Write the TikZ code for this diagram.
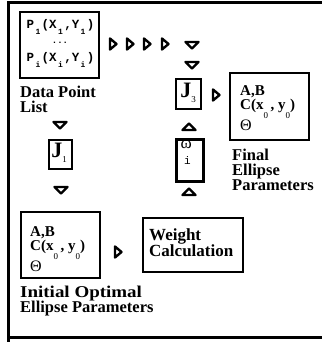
\documentclass[tikz,border=0pt]{standalone}
\usepackage{fontspec}
\usepackage{graphicx}
\setmainfont{Liberation Serif}
\setmonofont{Liberation Mono}
% lowered index that keeps one character cell
\newcommand\lowix[2][0.45em]{\makebox[0.6em][c]{\raisebox{-#1}{\fontsize{8}{8}\selectfont #2}}}
\newcommand\lowsub[2][9pt]{\raisebox{-#1}{\fontsize{9}{9}\selectfont\mdseries #2}}
\begin{document}
\begin{tikzpicture}[x=1pt,y=-1pt,
  box/.style={draw, line width=2pt, rectangle, inner sep=0pt},
  caption/.style={anchor=north west, inner sep=0pt, align=left,
    font=\fontsize{16.5}{15}\selectfont\bfseries},
  params/.style={anchor=north west, inner sep=0pt, align=left,
    font=\fontsize{15}{14.5}\selectfont\bfseries},
  mono/.style={inner sep=0pt, font=\fontsize{12.5}{12}\selectfont\ttfamily\bfseries},
  index/.style={inner sep=0pt, font=\fontsize{22}{22}\selectfont\bfseries},
  rtri/.pic={\draw[line width=2.4pt, line join=round] (-3,-5.5) -- (3.5,0) -- (-3,5.5) -- cycle;},
  dtri/.pic={\draw[line width=2.4pt, line join=round] (-6.5,-3) -- (6.5,-3) -- (0,3.5) -- cycle;},
  utri/.pic={\draw[line width=2.4pt, line join=round] (-6.5,3) -- (6.5,3) -- (0,-3.5) -- cycle;}
]
\useasboundingbox (0,0) rectangle (321,342);
% outer frame
\draw[line width=3pt] (8,345) -- (8,3) -- (330,3);
\draw[line width=3pt] (8,337) -- (330,337);

% data point list
\node[box, minimum width=79pt, minimum height=66pt] (data) at (59.5,45) {};
\node[mono] (row1) at (60.5,27) {P\lowix{1}(X\lowix{1},Y\lowix{1})};
\node[mono, font=\fontsize{9}{9}\selectfont\ttfamily\bfseries] (dots) at (60,43) {...};
\node[mono] (row2) at (60.5,60) {P\lowix{i}(X\lowix{i},Y\lowix{i})};
\node[caption] (datalbl) at (20,86) {Data Point\\List};

% index boxes
\node[box, minimum width=23pt, minimum height=29pt] (j1) at (60,154.5) {};
\node[index] (j1t) at (59,153) {J\lowsub[5pt]{1}};
\node[box, minimum width=25pt, minimum height=29pt] (j3) at (188.5,94) {};
\node[index] (j3t) at (188,93) {J\lowsub[5pt]{3}};
\node[box, line width=3pt, minimum width=27pt, minimum height=42pt] (w) at (189.5,160) {};
\node[inner sep=0pt, font=\fontsize{17}{17}\selectfont, anchor=north west] (wt) at (180.5,140) {ω};
\node[inner sep=0pt, font=\fontsize{11}{11}\selectfont\ttfamily, anchor=north west] (wi) at (184,156) {i};

% ellipse parameter boxes
\node[box, minimum width=79pt, minimum height=67pt] (final) at (269.5,106.5) {};
\node[params] (finalt) at (240,85)
  {A,B\\C(x\lowsub{0}\,, y\lowsub{0})\\{\mdseries\fontsize{16}{14.5}\selectfont Θ}};
\node[caption] (finallbl) at (232,149) {Final\\Ellipse\\Parameters};

\node[box, minimum width=79pt, minimum height=66pt] (init) at (60.5,245) {};
\node[params] (initt) at (30,226)
  {A,B\\C(x\lowsub{0}\,, y\lowsub{0})\\{\mdseries\fontsize{16}{14.5}\selectfont Θ}};
\node[caption] (initlbl) at (20,286) {\scalebox{1.15}[1]{Initial Optimal}\\Ellipse Parameters};

\node[box, minimum width=100pt, minimum height=54pt] (weight) at (193,245) {};
\node[caption, font=\fontsize{17}{16}\selectfont\bfseries] (weightt) at (149,229) {Weight\\Calculation};

% flow markers
\pic (r1) at (113,44) {rtri};
\pic (r2) at (130,44) {rtri};
\pic (r3) at (147,44) {rtri};
\pic (r4) at (165,44) {rtri};
\pic (d1) at (192,45) {dtri};
\pic (d2) at (192,65) {dtri};
\pic (r5) at (216,95) {rtri};
\pic (u1) at (189,127) {utri};
\pic (u2) at (189,192) {utri};
\pic (d3) at (60,125) {dtri};
\pic (d4) at (61,190) {dtri};
\pic (r6) at (118,252) {rtri};
\end{tikzpicture}
\end{document}
